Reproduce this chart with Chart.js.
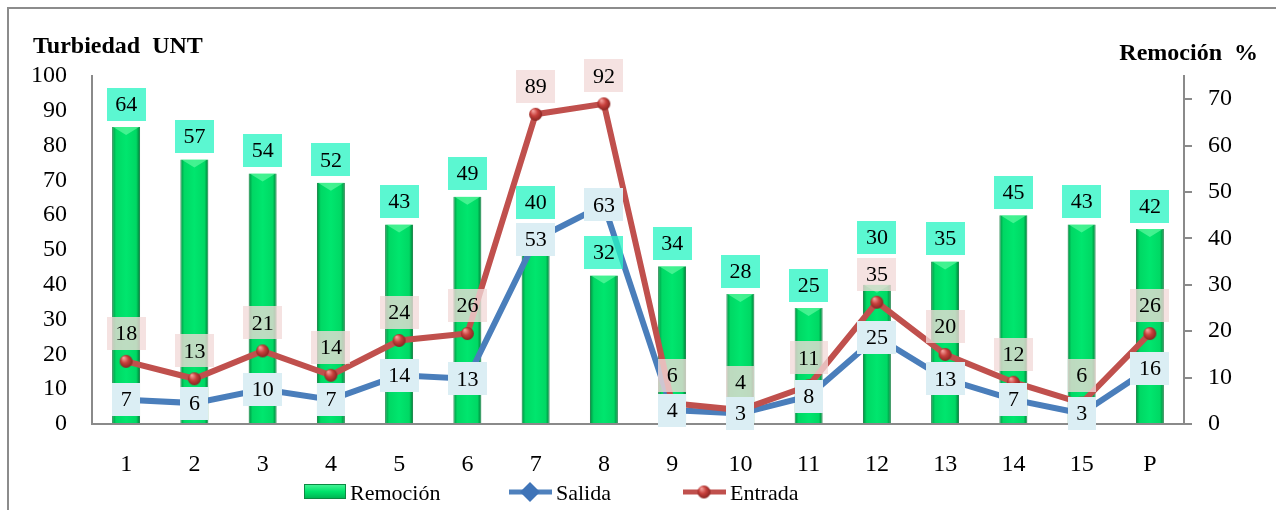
<!DOCTYPE html>
<html>
<head>
<meta charset="utf-8">
<script src="https://cdn.jsdelivr.net/npm/chart.js@4"></script>
<style>
  body { margin: 0; background: #fff; }
  #wrap { position: relative; width: 1276px; height: 510px; overflow: hidden; }
  #frame { position: absolute; left: 7px; top: 7px; width: 1300px; height: 540px; border: 2px solid #8c8c8c; box-sizing: border-box; }
  canvas { position: absolute; left: 0; top: 0; }
</style>
</head>
<body>
<div id="wrap">
  <div id="frame"></div>
  <canvas id="chart" width="1276" height="510"></canvas>
</div>
<script>
// data
const categories = ['1', '2', '3', '4', '5', '6', '7', '8', '9', '10', '11', '12', '13', '14', '15', 'P'];
const remocion = [64, 57, 54, 52, 43, 49, 40, 32, 34, 28, 25, 30, 35, 45, 43, 42];
const salida = [7, 6, 10, 7, 14, 13, 53, 63, 4, 3, 8, 25, 13, 7, 3, 16];
const entrada = [18, 13, 21, 14, 24, 26, 89, 92, 6, 4, 11, 35, 20, 12, 6, 26];
const leftTicks = [0, 10, 20, 30, 40, 50, 60, 70, 80, 90, 100];
const rightTicks = [0, 10, 20, 30, 40, 50, 60, 70];

const FONT = '"Liberation Serif", "Times New Roman", serif';
const AXIS = '#8a8a8a';

// little shaded ball for the Entrada markers
function sphere(r) {
  const c = document.createElement('canvas');
  c.width = c.height = r * 2 + 2;
  const g = c.getContext('2d');
  const gr = g.createRadialGradient(r * 0.75, r * 0.6, 0.5, r + 1, r + 1, r + 1);
  gr.addColorStop(0, '#f4a09c');
  gr.addColorStop(0.45, '#c8403c');
  gr.addColorStop(1, '#7a1f1c');
  g.fillStyle = gr;
  g.beginPath();
  g.arc(r + 1, r + 1, r, 0, Math.PI * 2);
  g.fill();
  return c;
}
const ball = sphere(6.5);

function barFill(c) {
  const chart = c.chart;
  const xs = chart.scales && chart.scales.x;
  if (!xs || c.dataIndex === undefined || !xs.width) return '#00e36b';
  const x = xs.getPixelForValue(c.dataIndex);
  const half = xs.width / categories.length * 0.41 / 2;
  const g = chart.ctx.createLinearGradient(x - half, 0, x + half, 0);
  g.addColorStop(0, '#008f40');
  g.addColorStop(0.14, '#00d864');
  g.addColorStop(0.5, '#00e66e');
  g.addColorStop(0.86, '#00d864');
  g.addColorStop(1, '#007a36');
  return g;
}

// top bevel on each bar
const bevelPlugin = {
  id: 'bevel',
  afterDatasetDraw(chart, args) {
    if (args.meta.type !== 'bar') return;
    const ctx = chart.ctx;
    ctx.save();
    args.meta.data.forEach(el => {
      const w = el.width;
      ctx.fillStyle = 'rgba(120, 255, 175, 0.55)';
      ctx.beginPath();
      ctx.moveTo(el.x - w / 2 + 1, el.y);
      ctx.lineTo(el.x + w / 2 - 1, el.y);
      ctx.lineTo(el.x, el.y + 8);
      ctx.closePath();
      ctx.fill();
    });
    ctx.restore();
  }
};

// value labels in coloured boxes
const labelPlugin = {
  id: 'boxLabels',
  afterDatasetsDraw(chart) {
    const ctx = chart.ctx;
    ctx.save();
    ctx.font = '22px ' + FONT;
    ctx.textAlign = 'center';
    ctx.textBaseline = 'middle';
    const h = 33;
    const boxes = [];
    const drawBox = (txt, x, y, bg) => {
      const w = ctx.measureText(txt).width + 17;
      ctx.fillStyle = bg;
      ctx.fillRect(Math.round(x - w / 2), Math.round(y - h / 2), Math.round(w), h);
      ctx.fillStyle = '#000';
      ctx.fillText(txt, x, y + 1);
      boxes.push({ l: x - w / 2, r: x + w / 2, t: y - h / 2, b: y + h / 2 });
    };
    const eMeta = chart.getDatasetMeta(2);
    const sMeta = chart.getDatasetMeta(1);
    const rMeta = chart.getDatasetMeta(0);
    eMeta.data.forEach((el, i) => drawBox(String(entrada[i]), el.x, el.y - 28, 'rgba(242, 218, 216, 0.78)'));
    sMeta.data.forEach((el, i) => drawBox(String(salida[i]), el.x, el.y, '#dbeef4'));
    rMeta.data.forEach((el, i) => {
      let y = el.y - 23;
      const w = ctx.measureText(String(remocion[i])).width + 17;
      boxes.forEach(b => {
        if (el.x + w / 2 > b.l && el.x - w / 2 < b.r && y + h / 2 > b.t && y - h / 2 < b.b) {
          y = b.t - h / 2 - 4;
        }
      });
      drawBox(String(remocion[i]), el.x, y, 'rgba(40, 245, 195, 0.76)');
    });
    ctx.restore();
  }
};

// axis titles and legend
const textPlugin = {
  id: 'titlesLegend',
  afterDraw(chart) {
    const ctx = chart.ctx;
    ctx.save();
    ctx.fillStyle = '#000';
    ctx.textBaseline = 'alphabetic';
    ctx.font = 'bold 24px ' + FONT;
    ctx.textAlign = 'left';
    ctx.fillText('Turbiedad  UNT', 33, 53);
    ctx.textAlign = 'right';
    ctx.fillText('Remoción  %', 1258, 60);

    // legend
    ctx.font = '22px ' + FONT;
    ctx.textAlign = 'left';
    const g = ctx.createLinearGradient(0, 484, 0, 499);
    g.addColorStop(0, '#4cf59a');
    g.addColorStop(0.5, '#00e36b');
    g.addColorStop(1, '#00b050');
    ctx.fillStyle = g;
    ctx.fillRect(304, 484, 42, 15);
    ctx.strokeStyle = '#0b8a43';
    ctx.lineWidth = 1;
    ctx.strokeRect(304.5, 484.5, 41, 14);
    ctx.fillStyle = '#000';
    ctx.fillText('Remoción', 350, 500);

    ctx.strokeStyle = '#4f81bd';
    ctx.lineWidth = 5;
    ctx.beginPath();
    ctx.moveTo(509, 492);
    ctx.lineTo(552, 492);
    ctx.stroke();
    ctx.fillStyle = '#3f74b8';
    ctx.beginPath();
    ctx.moveTo(530, 482);
    ctx.lineTo(540, 492);
    ctx.lineTo(530, 502);
    ctx.lineTo(520, 492);
    ctx.closePath();
    ctx.fill();
    ctx.fillStyle = '#000';
    ctx.fillText('Salida', 556, 500);

    ctx.strokeStyle = '#c0504d';
    ctx.beginPath();
    ctx.moveTo(683, 492);
    ctx.lineTo(726, 492);
    ctx.stroke();
    ctx.drawImage(ball, 704 - ball.width / 2, 492 - ball.height / 2);
    ctx.fillStyle = '#000';
    ctx.fillText('Entrada', 730, 500);
    ctx.restore();
  }
};

document.addEventListener('DOMContentLoaded', function() {
  const ctx = document.getElementById('chart');
  new Chart(ctx, {
    type: 'bar',
    data: {
      labels: categories,
      datasets: [{
        type: 'bar',
        label: 'Remoción',
        data: remocion,
        yAxisID: 'y1',
        backgroundColor: barFill,
        borderColor: '#0a7d3c',
        borderWidth: { left: 1, right: 1, top: 0, bottom: 0 },
        barPercentage: 0.41,
        categoryPercentage: 1,
        order: 3
      }, {
        type: 'line',
        label: 'Salida',
        data: salida,
        yAxisID: 'y',
        borderColor: '#4a7ebb',
        borderWidth: 6,
        tension: 0,
        pointStyle: 'rectRot',
        pointRadius: 6,
        pointBackgroundColor: '#3f74b8',
        pointBorderWidth: 0,
        order: 2
      }, {
        type: 'line',
        label: 'Entrada',
        data: entrada,
        yAxisID: 'y',
        borderColor: '#c0504d',
        borderWidth: 6,
        tension: 0,
        pointStyle: ball,
        pointRadius: 6,
        order: 1
      }]
    },
    options: {
      responsive: false,
      animation: false,
      layout: { padding: { top: 76, left: 0, right: 0, bottom: 0 } },
      plugins: { legend: { display: false }, tooltip: { enabled: false } },
      scales: {
        x: {
          grid: { display: false, drawTicks: false },
          border: { display: true, color: AXIS, width: 2 },
          ticks: { color: '#000', font: { family: FONT, size: 24 }, padding: 26, maxRotation: 0 },
          afterFit(s) { s.height = 86; }
        },
        y: {
          position: 'left',
          min: 0,
          max: 100,
          grid: { display: false, drawTicks: false },
          border: { display: true, color: AXIS, width: 2 },
          ticks: { color: '#000', font: { family: FONT, size: 24 }, padding: 25 },
          afterBuildTicks(s) { s.ticks = leftTicks.map(v => ({ value: v })); },
          afterFit(s) { s.width = 92; }
        },
        y1: {
          position: 'right',
          min: 0,
          max: 75,
          grid: { drawOnChartArea: false, drawTicks: true, tickLength: 8, color: AXIS, lineWidth: 2 },
          border: { display: true, color: AXIS, width: 2 },
          ticks: { color: '#000', font: { family: FONT, size: 24 }, padding: 16 },
          afterBuildTicks(s) { s.ticks = rightTicks.map(v => ({ value: v })); },
          afterFit(s) { s.width = 92; }
        }
      }
    },
    plugins: [bevelPlugin, labelPlugin, textPlugin]
  });
});
</script>
</body>
</html>
